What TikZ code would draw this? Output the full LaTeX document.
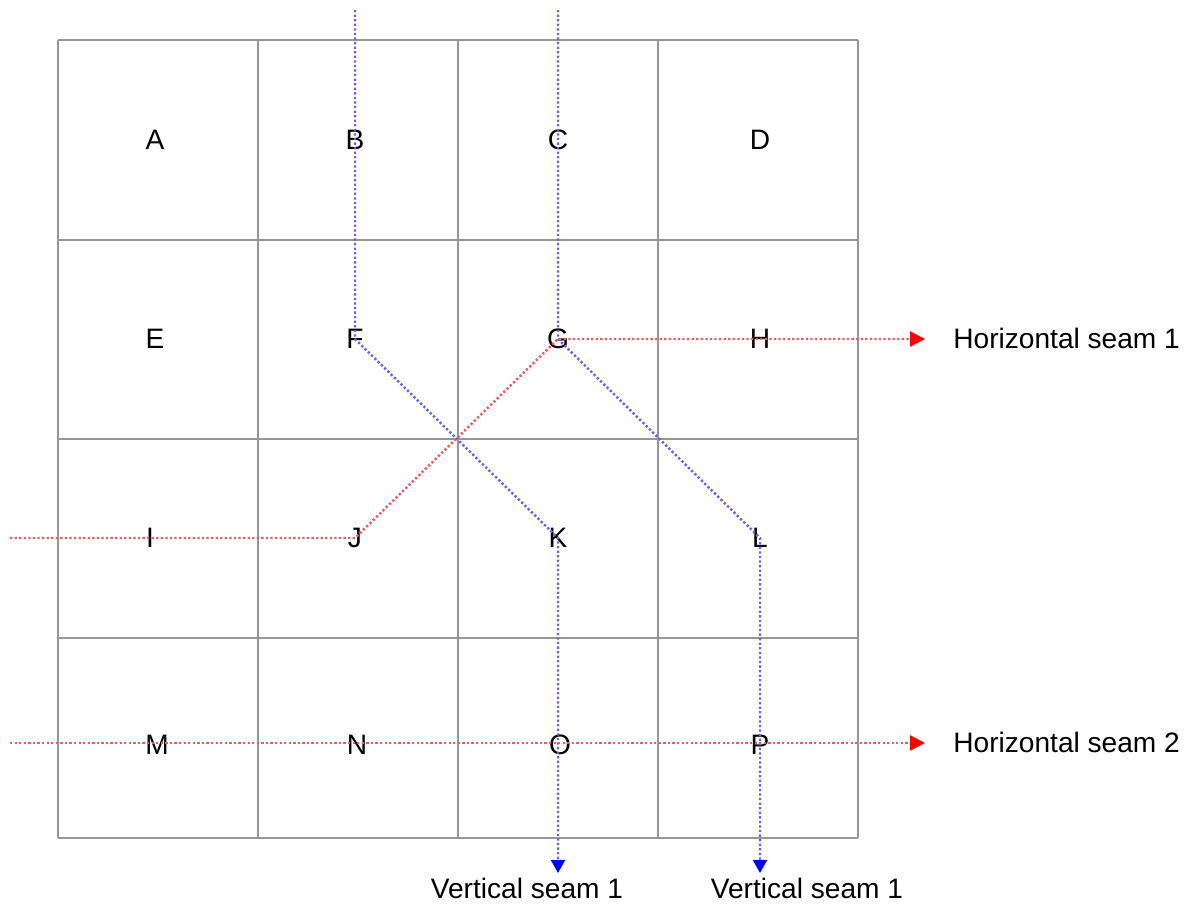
\documentclass[tikz,border=0pt]{standalone}
\usepackage{fontspec}
\setmainfont{Liberation Sans}
\usetikzlibrary{arrows.meta}
\definecolor{gridgray}{RGB}{150,150,150}
\definecolor{vseamcol}{RGB}{100,100,220}
\definecolor{hseamcol}{RGB}{230,95,95}
\tikzset{
  cellline/.style={draw=gridgray, line width=1.3pt},
  lbl/.style={inner sep=0pt, font=\fontsize{16}{19}\selectfont},
  vseam/.style={draw=vseamcol, line width=1.4pt, dash pattern=on 1.3pt off 1.3pt},
  hseam/.style={draw=hseamcol, line width=1.4pt, dash pattern=on 1.3pt off 1.3pt},
  vtip/.style={-{Triangle[length=7.5pt, width=8pt, color=blue]}},
  htip/.style={-{Triangle[length=8.5pt, width=8.5pt, color=red]}},
}

\begin{document}
\begin{tikzpicture}[x=0.02cm, y=-0.02cm]
\useasboundingbox (0,0) rectangle (1198,910);
% --- grid of cells ---
\foreach \gx in {58,258,458,658,858}
  \draw[cellline] (\gx,40) -- (\gx,838);
\foreach \gy in {40,240,439,638,838}
  \draw[cellline] (58,\gy) -- (858,\gy);
% --- cell labels ---
\node[lbl] (A) at (155,140) {A};
\node[lbl] (B) at (355,140) {B};
\node[lbl] (C) at (558,140) {C};
\node[lbl] (D) at (760,140) {D};
\node[lbl] (E) at (155,339) {E};
\node[lbl] (F) at (355,339) {F};
\node[lbl] (G) at (558,339) {G};
\node[lbl] (H) at (760,339) {H};
\node[lbl] (I) at (150,538) {I};
\node[lbl] (J) at (355,538) {J};
\node[lbl] (K) at (558,538) {K};
\node[lbl] (L) at (760,538) {L};
\node[lbl] (M) at (157,745) {M};
\node[lbl] (N) at (357,745) {N};
\node[lbl] (O) at (560,745) {O};
\node[lbl] (P) at (760,745) {P};
% --- free ends of the seams ---
\coordinate (vtop1) at (355,10);
\coordinate (vtop2) at (558,10);
\coordinate (vend1) at (558,873);
\coordinate (vend2) at (760,873);
\coordinate (hbeg1) at (10,538);
\coordinate (hbeg2) at (10,743);
\coordinate (hend1) at (925,339);
\coordinate (hend2) at (925,743);
% --- vertical seams ---
\draw[vseam, vtip] (vtop1) -- (F.center) -- (K.center) -- (vend1);
\draw[vseam, vtip] (vtop2) -- (G.center) -- (L.center) -- (vend2);
% --- horizontal seams ---
\draw[hseam, htip] (hbeg1) -- (J.center) -- (G.center) -- (hend1);
\draw[hseam, htip] (hbeg2) -- (hend2);
% --- seam names ---
\node[lbl, anchor=west] (hname1) at (953,338) {Horizontal seam 1};
\node[lbl, anchor=west] (hname2) at (953,742) {Horizontal seam 2};
\node[lbl] (vname1) at (527,888) {Vertical seam 1};
\node[lbl] (vname2) at (807,888) {Vertical seam 1};
\end{tikzpicture}
\end{document}
